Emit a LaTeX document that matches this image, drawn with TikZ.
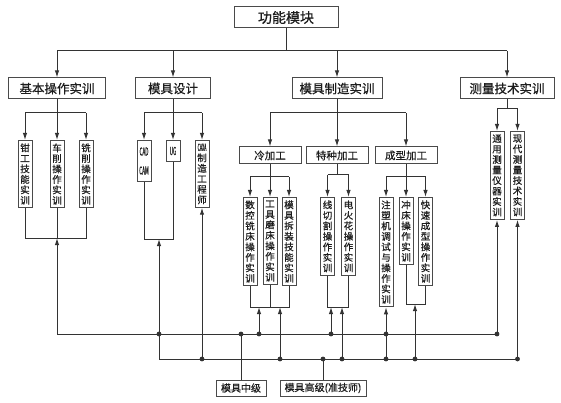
\documentclass[tikz,border=0pt]{standalone}
\usepackage{fontspec}
\setmainfont{Noto Sans CJK SC}[FakeBold=0.6]
\usepackage{graphicx}
\usetikzlibrary{arrows.meta,positioning}
\definecolor{linegray}{HTML}{333333}
\definecolor{boxgray}{HTML}{4A4A4A}
\definecolor{txt}{HTML}{1C1C1C}
\newcommand{\cnd}[1]{\scalebox{0.42}[1]{#1}}
\tikzset{
  >={Latex[length=7pt,width=4.4pt]},
}

\begin{document}
\begin{tikzpicture}[
  x=1pt, y=-1pt,
  line width=1pt, draw=linegray,
  box/.style={draw=boxgray, fill=white, text=txt, inner sep=1pt,
    minimum height=21, font=\fontsize{12.5}{13}\selectfont},
  grp/.style={box, minimum height=17, minimum width=62,
    font=\fontsize{10.5}{11}\selectfont},
  vbox/.style={draw=boxgray, fill=white, text=txt, anchor=north, align=center,
    inner xsep=2.2, inner ysep=3, minimum width=14,
    font=\fontsize{9.5}{10.5}\selectfont},
  foot/.style={box, minimum height=16, font=\fontsize{10}{10}\selectfont},
]
\useasboundingbox (0,0) rectangle (561,403);

% rails
\coordinate (r0) at (0,51);
\coordinate (r1) at (0,113);
\coordinate (r1m) at (0,109);
\coordinate (r2) at (0,177);
\coordinate (bu) at (0,334);
\coordinate (bl) at (0,359);

% top + level 2
\node[box, minimum width=104, font=\fontsize{14}{14}\selectfont] (top) at (286,17.5) {功能模块};
\node[box, minimum width=97] (jiben) at (57,88.5) {基本操作实训};
\node[box, minimum width=75] (sheji) at (173,88.5) {模具设计};
\node[box, minimum width=90] (zhizao) at (337,88.5) {模具制造实训};
\node[box, minimum width=94] (celiang) at (507,88.5) {测量技术实训};

% basic training
\node[vbox] (s11) at (25,140) {钳\\工\\技\\能\\实\\训};
\node[vbox] (s12) at (57,140) {车\\削\\操\\作\\实\\训};
\node[vbox] (s13) at (86,140) {铣\\削\\操\\作\\实\\训};

% design
\node[vbox, minimum height=41, font=\fontsize{11}{19}\selectfont] (s21) at (144,140) {\cnd{CAD}\\\cnd{CAM}};
\node[vbox, minimum height=21, font=\fontsize{11}{11}\selectfont] (s22) at (173,140) {\cnd{UG}};
\node[vbox] (s23) at (202,140) {\scalebox{0.36}[1]{\fontsize{10}{10}\selectfont CAXA}\\制\\造\\工\\程\\师};

% manufacturing
\node[grp] (t1) at (270,155.5) {冷加工};
\node[grp] (t2) at (337,155.5) {特种加工};
\node[grp] (t3) at (406,155.5) {成型加工};

\node[vbox] (s31) at (250,197) {数\\控\\铣\\床\\操\\作\\实\\训};
\node[vbox] (s32) at (270,197) {工\\具\\磨\\床\\操\\作\\实\\训};
\node[vbox] (s33) at (289,197) {模\\具\\拆\\装\\技\\能\\实\\训};
\node[vbox] (s41) at (327.5,197) {线\\切\\割\\操\\作\\实\\训};
\node[vbox] (s42) at (348.5,197) {电\\火\\花\\操\\作\\实\\训};
\node[vbox] (s51) at (386,197) {注\\塑\\机\\调\\试\\与\\操\\作\\实\\训};
\node[vbox] (s52) at (406,197) {冲\\床\\操\\作\\实\\训};
\node[vbox] (s53) at (425.5,197) {快\\速\\成\\型\\操\\作\\实\\训};

% measuring
\node[vbox] (s61) at (497,131) {通\\用\\测\\量\\仪\\器\\实\\训};
\node[vbox] (s62) at (517.5,131) {现\\代\\测\\量\\技\\术\\实\\训};

% levels
\node[foot, minimum width=50] (mid) at (241,388) {模具中级};
\node[foot, minimum width=86] (high) at (323,388) {模具高级(准技师)};

% joins and arrow ends
\coordinate (jb) at (57,238);
\coordinate (jd) at (159,239);
\coordinate (a1) at (259,307);
\coordinate (a2) at (280,307);
\coordinate (a3) at (331,307);
\coordinate (a4) at (342,307);
\coordinate (a5) at (415,304);

% downward tree
\draw (top) -- (top |- r0);
\draw (jiben |- r0) -- (celiang |- r0);
\foreach \n in {jiben,sheji,zhizao,celiang} \draw[->] (\n |- r0) -- (\n);

\draw (jiben) -- (jiben |- r1);
\draw (s11 |- r1) -- (s13 |- r1);
\foreach \n in {s11,s12,s13} \draw[->] (\n |- r1) -- (\n);

\draw (sheji) -- (sheji |- r1);
\draw (s21 |- r1) -- (s23 |- r1);
\foreach \n in {s21,s22,s23} \draw[->] (\n |- r1) -- (\n);

\draw (zhizao) -- (zhizao |- r1);
\draw (t1 |- r1) -- (t3 |- r1);
\foreach \n in {t1,t2,t3} \draw[->] (\n |- r1) -- (\n);

\draw (celiang) -- (celiang |- r1m);
\draw (s61 |- r1m) -- (s62 |- r1m);
\foreach \n in {s61,s62} \draw[->] (\n |- r1m) -- (\n);

\draw (t1) -- (t1 |- r2);
\draw (s31 |- r2) -- (s33 |- r2);
\foreach \n in {s31,s32,s33} \draw[->] (\n |- r2) -- (\n);
\draw (t2) -- (t2 |- 0,175);
\draw (s41 |- 0,175) -- (s42 |- 0,175);
\foreach \n in {s41,s42} \draw[->] (\n |- 0,175) -- (\n);
\draw (t3) -- (t3 |- r2);
\draw (s51 |- r2) -- (s53 |- r2);
\foreach \n in {s51,s52,s53} \draw[->] (\n |- r2) -- (\n);

% bottom joins
\draw (s11.south) |- (s13.south |- jb) -- (s13.south);
\draw (s12.south) -- (jb);
\draw (s21.south) |- (s22.south |- jd) -- (s22.south);
\draw (s31.south) |- (s33.south |- a1) -- (s33.south);
\draw (s32.south) -- (s32 |- a1);
\draw (s41.south) |- (s42.south |- a3) -- (s42.south);
\draw (s52.south) |- (s53.south |- a5) -- (s53.south);

% buses
\draw (s12 |- bu) -- (s61 |- bu);
\draw (jd |- bl) -- (s62 |- bl);

\draw[->] (s12 |- bu) -- (jb);
\draw[->] (jd |- bl) -- (jd);
\draw[->] (s23 |- bl) -- (s23.south);
\draw[->] (a1 |- bu) -- (a1);
\draw[->] (a2 |- bl) -- (a2);
\draw[->] (a3 |- bu) -- (a3);
\draw[->] (a4 |- bl) -- (a4);
\draw[->] (s51 |- bl) -- (s51.south);
\draw[->] (a5 |- bl) -- (a5);
\draw[->] (s61 |- bu) -- (s61.south);
\draw[->] (s62 |- bl) -- (s62.south);

\draw (mid |- bu) -- (mid);
\draw (high |- bl) -- (high);

\foreach \p in {jd |- bu, mid |- bu, a1 |- bu, a3 |- bu, s51 |- bu, s61 |- bu,
  s23 |- bl, a2 |- bl, high |- bl, a4 |- bl, s51 |- bl, a5 |- bl, s62 |- bl}
  \fill[linegray] (\p) circle (2.4);

\end{tikzpicture}
\end{document}
